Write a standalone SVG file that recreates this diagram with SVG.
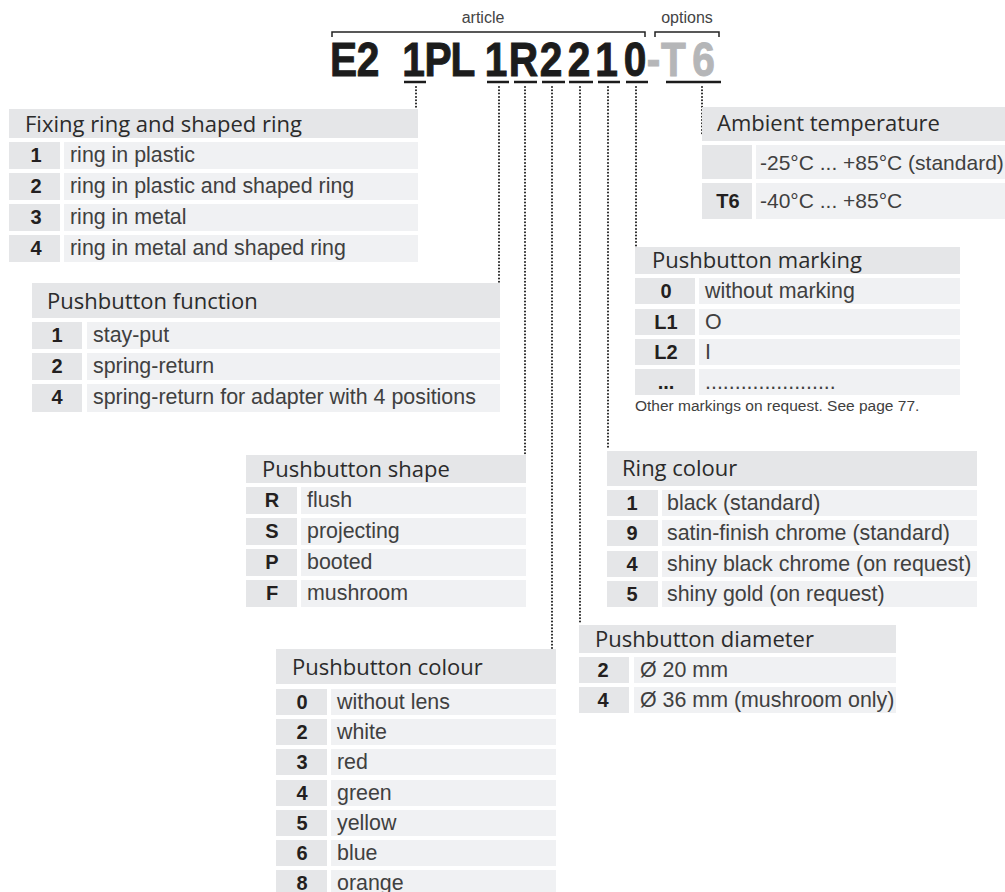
<svg xmlns="http://www.w3.org/2000/svg" width="1005" height="892" viewBox="0 0 1005 892">
<style>
.hd{fill:#e5e6e8}
.k{fill:#e5e6e8}
.v{fill:#f0f1f3}
.ht{font-family:"Open Sans","Liberation Sans",sans-serif;font-size:22px;fill:#2b2b2b}
.kt{font-family:"Liberation Sans",Arial,sans-serif;font-size:20px;font-weight:bold;fill:#231f20;text-anchor:middle}
.vt{font-family:"Liberation Sans",Arial,sans-serif;font-size:21.4px;fill:#404040}
.sm{font-family:"Liberation Sans",Arial,sans-serif;font-size:15.5px;fill:#404040}
.lbl{font-family:"Liberation Sans",Arial,sans-serif;font-size:16px;fill:#444;text-anchor:middle}
.big{font-family:"Liberation Sans",Arial,sans-serif;font-size:49px;font-weight:bold;fill:#1c1c1c;stroke:#1c1c1c;stroke-width:1;text-anchor:middle}
.opt{fill:#b5b6b8;stroke:#b5b6b8}
.br{fill:none;stroke:#222;stroke-width:1.5}
.ul{stroke:#1c1c1c;stroke-width:2.5}
.dot{fill:none;stroke:#1c1c1c;stroke-width:2;stroke-linecap:round;stroke-dasharray:0 3.3}
</style>

<g id="code">
<text class="lbl" x="483" y="23">article</text>
<text class="lbl" x="687" y="23">options</text>
<path class="br" d="M332,37 V32 H645 V37"/>
<path class="br" d="M655,37 V32 H719 V37"/>
<g transform="scale(0.83,1)">
<text class="big" y="76"><tspan x="413.9">E</tspan><tspan x="443.4">2</tspan><tspan x="498.2">1</tspan><tspan x="527.7">P</tspan><tspan x="557.8">L</tspan><tspan x="597.6">1</tspan><tspan x="630.7">R</tspan><tspan x="663.9">2</tspan><tspan x="697.6">2</tspan><tspan x="730.7">1</tspan><tspan x="765.1">0</tspan><tspan class="opt" x="787.3">-</tspan><tspan class="opt" x="811.4">T</tspan><tspan class="opt" x="847.6">6</tspan></text>
</g>
<line class="ul" x1="404" y1="82" x2="426" y2="82"/>
<line class="ul" x1="487" y1="82" x2="509" y2="82"/>
<line class="ul" x1="514" y1="82" x2="537" y2="82"/>
<line class="ul" x1="542" y1="82" x2="565" y2="82"/>
<line class="ul" x1="569" y1="82" x2="593" y2="82"/>
<line class="ul" x1="598" y1="82" x2="620" y2="82"/>
<line class="ul" x1="626" y1="82" x2="648" y2="82"/>
<line class="ul" x1="666" y1="82" x2="721" y2="82"/>
</g>

<g id="connectors">
<line class="dot" x1="416" y1="87" x2="416" y2="122"/>
<line class="dot" x1="499" y1="87" x2="499" y2="283"/>
<line class="dot" x1="525" y1="87" x2="525" y2="470"/>
<line class="dot" x1="552" y1="87" x2="552" y2="649"/>
<line class="dot" x1="580" y1="87" x2="580" y2="622"/>
<line class="dot" x1="608" y1="87" x2="608" y2="448"/>
<line class="dot" x1="636" y1="87" x2="636" y2="247"/>
<line class="dot" x1="702" y1="87" x2="702" y2="135"/>
</g>

<g id="fixing-ring">
<rect class="hd" x="9" y="109" width="409" height="29"/>
<text class="ht" x="25" y="132">Fixing ring and shaped ring</text>
<rect class="k" x="9" y="142" width="51" height="27"/><rect class="v" x="64" y="142" width="354" height="27"/>
<rect class="k" x="9" y="173" width="51" height="27"/><rect class="v" x="64" y="173" width="354" height="27"/>
<rect class="k" x="9" y="204" width="51" height="27"/><rect class="v" x="64" y="204" width="354" height="27"/>
<rect class="k" x="9" y="235" width="51" height="27"/><rect class="v" x="64" y="235" width="354" height="27"/>
<text class="kt" x="36" y="162">1</text><text class="vt" x="70" y="162">ring in plastic</text>
<text class="kt" x="36" y="193">2</text><text class="vt" x="70" y="193">ring in plastic and shaped ring</text>
<text class="kt" x="36" y="224">3</text><text class="vt" x="70" y="224">ring in metal</text>
<text class="kt" x="36" y="255">4</text><text class="vt" x="70" y="255">ring in metal and shaped ring</text>
</g>

<g id="pushbutton-function">
<rect class="hd" x="32" y="283" width="468" height="35"/>
<text class="ht" x="47" y="309">Pushbutton function</text>
<rect class="k" x="32" y="322" width="50" height="27"/><rect class="v" x="87" y="322" width="413" height="27"/>
<rect class="k" x="32" y="353" width="50" height="27"/><rect class="v" x="87" y="353" width="413" height="27"/>
<rect class="k" x="32" y="384" width="50" height="28"/><rect class="v" x="87" y="384" width="413" height="28"/>
<text class="kt" x="57" y="342">1</text><text class="vt" x="93" y="342">stay-put</text>
<text class="kt" x="57" y="373">2</text><text class="vt" x="93" y="373">spring-return</text>
<text class="kt" x="57" y="404">4</text><text class="vt" x="93" y="404">spring-return for adapter with 4 positions</text>
</g>

<g id="pushbutton-shape">
<rect class="hd" x="246" y="455" width="280" height="28"/>
<text class="ht" x="262" y="477">Pushbutton shape</text>
<rect class="k" x="246" y="487" width="51" height="27"/><rect class="v" x="301" y="487" width="225" height="27"/>
<rect class="k" x="246" y="518" width="51" height="27"/><rect class="v" x="301" y="518" width="225" height="27"/>
<rect class="k" x="246" y="549" width="51" height="27"/><rect class="v" x="301" y="549" width="225" height="27"/>
<rect class="k" x="246" y="580" width="51" height="27"/><rect class="v" x="301" y="580" width="225" height="27"/>
<text class="kt" x="272" y="507">R</text><text class="vt" x="307" y="507">flush</text>
<text class="kt" x="272" y="538">S</text><text class="vt" x="307" y="538">projecting</text>
<text class="kt" x="272" y="569">P</text><text class="vt" x="307" y="569">booted</text>
<text class="kt" x="272" y="600">F</text><text class="vt" x="307" y="600">mushroom</text>
</g>

<g id="pushbutton-colour">
<rect class="hd" x="276" y="649" width="280" height="35"/>
<text class="ht" x="292" y="675">Pushbutton colour</text>
<rect class="k" x="276" y="689" width="51" height="26"/><rect class="v" x="331" y="689" width="225" height="26"/>
<rect class="k" x="276" y="719" width="51" height="26"/><rect class="v" x="331" y="719" width="225" height="26"/>
<rect class="k" x="276" y="749" width="51" height="26"/><rect class="v" x="331" y="749" width="225" height="26"/>
<rect class="k" x="276" y="780" width="51" height="26"/><rect class="v" x="331" y="780" width="225" height="26"/>
<rect class="k" x="276" y="810" width="51" height="26"/><rect class="v" x="331" y="810" width="225" height="26"/>
<rect class="k" x="276" y="840" width="51" height="26"/><rect class="v" x="331" y="840" width="225" height="26"/>
<rect class="k" x="276" y="870" width="51" height="26"/><rect class="v" x="331" y="870" width="225" height="26"/>
<text class="kt" x="302" y="709">0</text><text class="vt" x="337" y="709">without lens</text>
<text class="kt" x="302" y="739">2</text><text class="vt" x="337" y="739">white</text>
<text class="kt" x="302" y="769">3</text><text class="vt" x="337" y="769">red</text>
<text class="kt" x="302" y="800">4</text><text class="vt" x="337" y="800">green</text>
<text class="kt" x="302" y="830">5</text><text class="vt" x="337" y="830">yellow</text>
<text class="kt" x="302" y="860">6</text><text class="vt" x="337" y="860">blue</text>
<text class="kt" x="302" y="890">8</text><text class="vt" x="337" y="890">orange</text>
</g>

<g id="ambient-temperature">
<rect class="hd" x="702" y="107" width="303" height="34"/>
<text class="ht" x="717" y="131">Ambient temperature</text>
<rect class="k" x="702" y="145" width="50" height="34"/><rect class="v" x="756" y="145" width="249" height="34"/>
<rect class="k" x="702" y="183" width="50" height="36"/><rect class="v" x="756" y="183" width="249" height="36"/>
<text class="vt" x="760" y="170" style="font-size:21px">-25°C ... +85°C (standard)</text>
<text class="kt" x="728" y="208">T6</text><text class="vt" x="760" y="208" style="font-size:21px">-40°C ... +85°C</text>
</g>

<g id="pushbutton-marking">
<rect class="hd" x="635" y="247" width="325" height="27"/>
<text class="ht" x="652" y="268">Pushbutton marking</text>
<rect class="k" x="635" y="278" width="60" height="26"/><rect class="v" x="699" y="278" width="261" height="26"/>
<rect class="k" x="635" y="309" width="60" height="26"/><rect class="v" x="699" y="309" width="261" height="26"/>
<rect class="k" x="635" y="339" width="60" height="26"/><rect class="v" x="699" y="339" width="261" height="26"/>
<rect class="k" x="635" y="369" width="60" height="26"/><rect class="v" x="699" y="369" width="261" height="26"/>
<text class="kt" x="666" y="298">0</text><text class="vt" x="705" y="298">without marking</text>
<text class="kt" x="666" y="329">L1</text><text class="vt" x="705" y="329">O</text>
<text class="kt" x="666" y="359">L2</text><text class="vt" x="705" y="359">I</text>
<text class="kt" x="666" y="389">...</text><text class="vt" x="705" y="389">......................</text>
<text class="sm" x="635" y="411">Other markings on request. See page 77.</text>
</g>

<g id="ring-colour">
<rect class="hd" x="607" y="451" width="370" height="35"/>
<text class="ht" x="622" y="476">Ring colour</text>
<rect class="k" x="607" y="490" width="51" height="26"/><rect class="v" x="662" y="490" width="315" height="26"/>
<rect class="k" x="607" y="520" width="51" height="26"/><rect class="v" x="662" y="520" width="315" height="26"/>
<rect class="k" x="607" y="551" width="51" height="26"/><rect class="v" x="662" y="551" width="315" height="26"/>
<rect class="k" x="607" y="581" width="51" height="26"/><rect class="v" x="662" y="581" width="315" height="26"/>
<text class="kt" x="632" y="510">1</text><text class="vt" x="667" y="510">black (standard)</text>
<text class="kt" x="632" y="540">9</text><text class="vt" x="667" y="540">satin-finish chrome (standard)</text>
<text class="kt" x="632" y="571">4</text><text class="vt" x="667" y="571">shiny black chrome (on request)</text>
<text class="kt" x="632" y="601">5</text><text class="vt" x="667" y="601">shiny gold (on request)</text>
</g>

<g id="pushbutton-diameter">
<rect class="hd" x="579" y="625" width="317" height="28"/>
<text class="ht" x="595" y="647">Pushbutton diameter</text>
<rect class="k" x="579" y="657" width="50" height="26"/><rect class="v" x="634" y="657" width="262" height="26"/>
<rect class="k" x="579" y="687" width="50" height="26"/><rect class="v" x="634" y="687" width="262" height="26"/>
<text class="kt" x="603" y="677">2</text><text class="vt" x="640" y="677">Ø 20 mm</text>
<text class="kt" x="603" y="707">4</text><text class="vt" x="640" y="707">Ø 36 mm (mushroom only)</text>
</g>
</svg>
